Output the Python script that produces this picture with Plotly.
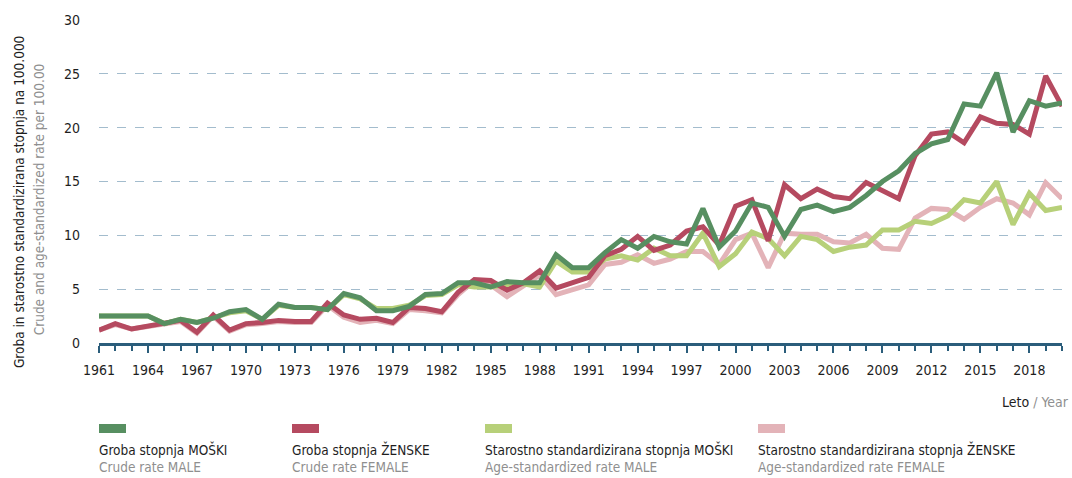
import plotly.graph_objects as go

years = list(range(1961, 2021))

crude_male = [2.5, 2.5, 2.4, 2.5, 1.8, 2.2, 1.9, 2.3, 2.9, 3.1,
              2.2, 3.6, 3.3, 3.3, 3.1, 4.6, 4.2, 3.0, 3.0, 3.4,
              4.5, 4.6, 5.6, 5.6, 5.2, 5.7, 5.6, 5.6, 8.2, 7.0,
              7.0, 8.4, 9.6, 8.8, 9.9, 9.4, 9.2, 12.5, 8.9, 10.4,
              13.0, 12.6, 9.9, 12.4, 12.8, 12.2, 12.6, 13.7, 15.0, 16.0,
              17.6, 18.5, 18.9, 22.2, 22.0, 25.1, 19.6, 22.5, 22.0, 22.3]

crude_female = [1.2, 1.8, 1.3, 1.6, 1.8, 2.1, 1.0, 2.6, 1.2, 1.8,
                1.9, 2.1, 2.0, 2.0, 3.7, 2.6, 2.2, 2.3, 1.9, 3.3,
                3.2, 2.9, 4.7, 5.9, 5.8, 4.9, 5.6, 6.7, 5.1, 5.6,
                6.1, 8.1, 8.7, 9.9, 8.6, 9.1, 10.4, 10.8, 9.1, 12.7,
                13.3, 9.5, 14.7, 13.4, 14.3, 13.6, 13.4, 14.9, 14.2, 13.4,
                17.4, 19.4, 19.6, 18.6, 21.0, 20.4, 20.3, 19.4, 24.8, 22.0]

asr_male = [2.5, 2.5, 2.4, 2.5, 1.8, 2.2, 1.9, 2.3, 2.8, 3.0,
            2.2, 3.5, 3.3, 3.3, 3.1, 4.5, 4.1, 3.2, 3.2, 3.5,
            4.4, 4.5, 5.4, 5.2, 5.2, 5.4, 5.5, 5.2, 7.6, 6.6,
            6.6, 7.8, 8.1, 7.7, 8.8, 8.1, 8.1, 10.2, 7.1, 8.3,
            10.3, 9.7, 8.1, 9.9, 9.6, 8.5, 8.9, 9.1, 10.5, 10.5,
            11.3, 11.1, 11.8, 13.3, 13.0, 15.0, 11.0, 13.9, 12.3, 12.6]

asr_female = [1.2, 1.7, 1.3, 1.5, 1.7, 2.0, 0.9, 2.5, 1.1, 1.7,
              1.8, 2.0, 1.9, 1.9, 3.5, 2.4, 1.9, 2.1, 1.8, 3.1,
              3.0, 2.8, 4.5, 5.8, 5.4, 4.3, 5.3, 6.3, 4.5, 4.9,
              5.4, 7.3, 7.5, 8.2, 7.4, 7.8, 8.5, 8.5, 7.3, 9.6,
              10.2, 7.0, 10.2, 10.1, 10.1, 9.4, 9.3, 10.1, 8.8, 8.7,
              11.6, 12.5, 12.4, 11.5, 12.6, 13.4, 13.0, 11.9, 14.9, 13.4]

x_ticks = list(range(1961, 2019, 3))
y_ticks = [0, 5, 10, 15, 20, 25, 30]

GREEN = "#578f61"
RED = "#b54a60"
LIGHT_GREEN = "#b7d079"
PINK = "#e3b3b8"
AXIS = "#2b5d7b"
GRID = "#a3bccd"
GRAY = "#8f8f8f"
DARK = "#1e1e1e"
FONT = "'Liberation Sans Narrow', 'Arial Narrow', 'DejaVu Sans Condensed', 'Liberation Sans', sans-serif"

series = [
    ("Starostno standardizirana stopnja ŽENSKE", "Age-standardized rate FEMALE", asr_female, PINK),
    ("Starostno standardizirana stopnja MOŠKI", "Age-standardized rate MALE", asr_male, LIGHT_GREEN),
    ("Groba stopnja ŽENSKE", "Crude rate FEMALE", crude_female, RED),
    ("Groba stopnja MOŠKI", "Crude rate MALE", crude_male, GREEN),
]

fig = go.Figure()
for name, _, vals, col in series:
    fig.add_trace(go.Scatter(x=years, y=vals, mode="lines", name=name,
                             line=dict(color=col, width=5), showlegend=False))

fig.update_layout(
    width=1072, height=478,
    margin=dict(l=99, r=10, t=20, b=135),
    paper_bgcolor="white", plot_bgcolor="white",
    font=dict(family=FONT, size=14, color=DARK),
)
fig.update_xaxes(
    range=[1961, 2020], tickvals=x_ticks, ticktext=[str(v) for v in x_ticks],
    showgrid=False, zeroline=False,
    showline=True, linecolor=AXIS, linewidth=3,
    ticks="outside", ticklen=7, tickcolor=AXIS, tickwidth=1.5,
    minor=dict(dtick=1, tick0=1961, ticks="outside", ticklen=5, tickcolor=AXIS, tickwidth=1.5),
    tickfont=dict(family=FONT, size=14, color=DARK),
    ticklabelstandoff=5,
)
fig.update_yaxes(
    range=[0, 30], tickvals=y_ticks,
    showgrid=True, gridcolor=GRID, griddash="dash", gridwidth=1,
    zeroline=False, showline=False, ticks="",
    tickfont=dict(family=FONT, size=14, color=DARK),
    ticklabelstandoff=18,
)

# Rotated two-language axis title
fig.add_annotation(x=-0.083, y=(343 - 202) / 323, xref="paper", yref="paper", textangle=-90,
                   text="Groba in starostno standardizirana stopnja na 100.000",
                   showarrow=False, font=dict(family=FONT, size=13.5, color=DARK),
                   xanchor="center", yanchor="middle")
fig.add_annotation(x=-0.062, y=(343 - 199) / 323, xref="paper", yref="paper", textangle=-90,
                   text="Crude and age-standardized rate per 100.00",
                   showarrow=False, font=dict(family=FONT, size=13.5, color=GRAY),
                   xanchor="center", yanchor="middle")

# x-axis title
fig.add_annotation(x=(1071 - 99) / 963, y=(343 - 402) / 323, xref="paper", yref="paper",
                   text="Leto <span style='color:%s'>/ Year</span>" % GRAY,
                   showarrow=False, font=dict(family=FONT, size=14, color=DARK),
                   xanchor="right", yanchor="middle")

# Custom legend: swatch + two text lines per series
legend_x = [99, 292, 485, 758]
legend_order = [series[3], series[2], series[1], series[0]]
for lx, (name, name_en, _, col) in zip(legend_x, legend_order):
    fig.add_shape(type="rect", xref="paper", yref="paper",
                  x0=(lx - 99) / 963, x1=(lx + 27 - 99) / 963,
                  y0=(343 - 433) / 323, y1=(343 - 424) / 323,
                  fillcolor=col, line=dict(width=0))
    fig.add_annotation(x=(lx - 101) / 963, y=(343 - 449) / 323, xref="paper", yref="paper",
                       text=name, showarrow=False, xanchor="left", yanchor="middle",
                       font=dict(family=FONT, size=13.5, color=DARK))
    fig.add_annotation(x=(lx - 101) / 963, y=(343 - 467) / 323, xref="paper", yref="paper",
                       text=name_en, showarrow=False, xanchor="left", yanchor="middle",
                       font=dict(family=FONT, size=13.5, color=GRAY))

fig.write_html("out.html")
